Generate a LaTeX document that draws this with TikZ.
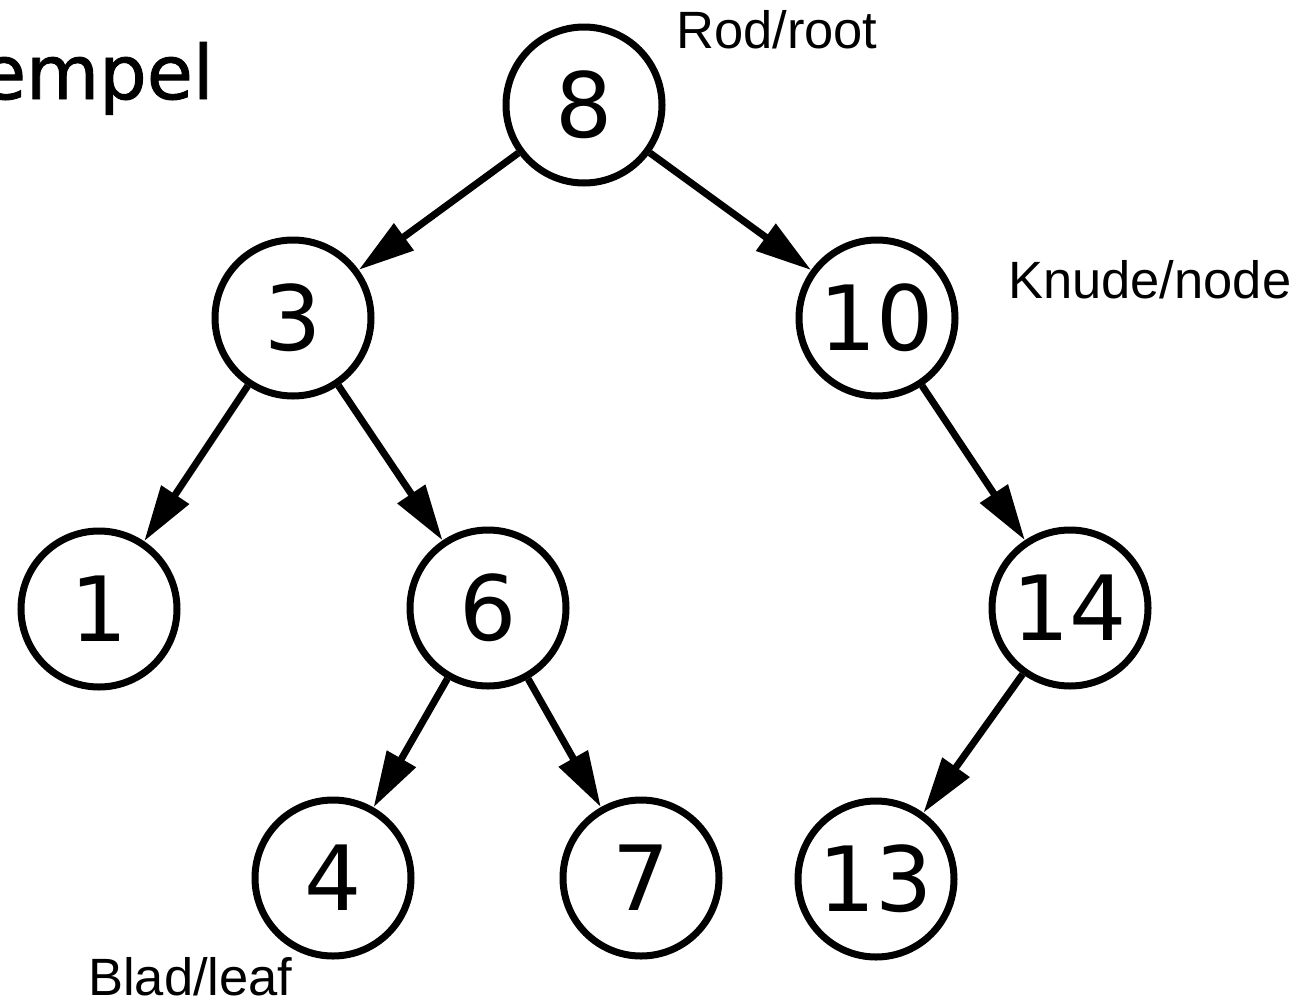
\documentclass[tikz,border=0pt]{standalone}
\usepackage{fontspec}
\setmainfont{Liberation Sans}
\newfontfamily\digitfont{DejaVu Sans}
\newfontfamily\titlefont{DejaVu Sans}[FakeBold=1.2]
\usetikzlibrary{arrows.meta}
\begin{document}
\begin{tikzpicture}[x=1pt,y=-1pt,
  treenode/.style={circle,draw=black,line width=7pt,minimum size=156pt,inner sep=0pt,
    font=\digitfont\fontsize{90}{90}\selectfont},
  link/.style={line width=7pt,-{Triangle[length=56pt,width=32pt]}},
  lbl/.style={anchor=base west,inner sep=0pt,font=\fontsize{52.5}{52.5}\selectfont}]
\useasboundingbox[fill=white] (0,0) rectangle (1304,1004);
\begin{scope}
\clip (0,0) rectangle (1304,1004);
\node[anchor=base east,inner sep=0pt] (title) at (214,99)
  {\titlefont\fontsize{75}{75}\selectfont empel};
\end{scope}
\node[treenode] (n8) at (584,105) {8};
\node[treenode] (n3) at (293,318) {3};
\node[treenode] (n10) at (877,318) {10};
\node[treenode] (n1) at (99,609) {1};
\node[treenode] (n6) at (488,608) {6};
\node[treenode] (n14) at (1070,608) {14};
\node[treenode] (n4) at (333,878) {4};
\node[treenode] (n7) at (641,878) {7};
\node[treenode] (n13) at (876,879) {13};
\draw[link] (n8) -- (n3);
\draw[link] (n8) -- (n10);
\draw[link] (n3) -- (n1);
\draw[link] (n3) -- (n6);
\draw[link] (n10) -- (n14);
\draw[link] (n6) -- (n4);
\draw[link] (n6) -- (n7);
\draw[link] (n14) -- (n13);
\node[lbl] (root) at (676,48) {Rod/root};
\node[lbl] (knude) at (1008,298) {Knude/node};
\node[lbl] (blad) at (88,995) {Blad/leaf};
\end{tikzpicture}
\end{document}
